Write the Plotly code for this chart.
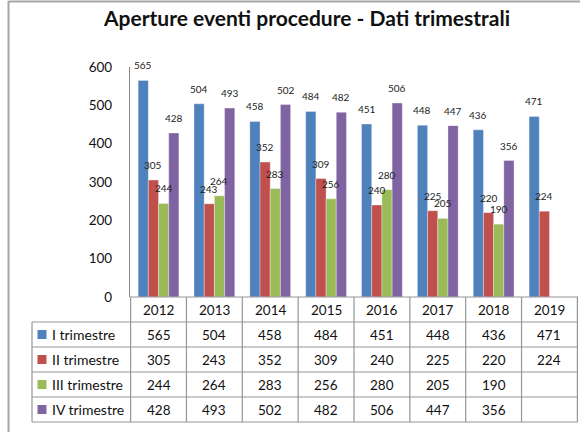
import plotly.graph_objects as go

# ---- data ----
years = ["2012", "2013", "2014", "2015", "2016", "2017", "2018", "2019"]
series_names = ["I trimestre", "II trimestre", "III trimestre", "IV trimestre"]
q1 = [565, 504, 458, 484, 451, 448, 436, 471]
q2 = [305, 243, 352, 309, 240, 225, 220, 224]
q3 = [244, 264, 283, 256, 280, 205, 190, None]
q4 = [428, 493, 502, 482, 506, 447, 356, None]
y_ticks = [0, 100, 200, 300, 400, 500, 600]
colors = ["#4F81BD", "#C0504D", "#9BBB59", "#8064A2"]
series = [q1, q2, q3, q4]

W, H = 580, 432
L, R, T, B = 130, 2, 67, 135
PW, PH = W - L - R, H - T - B
BARGAP = 0.27
FONT = "Lato, 'Open Sans', sans-serif"
GRID = "#969696"


def px(xp):
    return (xp - L) / PW


def py(yp):
    return (H - B - yp) / PH


fig = go.Figure()
for name, vals, col in zip(series_names, series, colors):
    fig.add_trace(go.Bar(
        x=years, y=vals, name=name,
        marker=dict(color=col, line=dict(color="rgba(255,255,255,0.55)", width=0.6)),
        showlegend=False, hoverinfo="x+y+name",
    ))

annotations = []
shapes = []

# data labels above bars
nser = len(series)
bw = (1 - BARGAP) / nser
for j, vals in enumerate(series):
    off = (j - (nser - 1) / 2) * bw
    for i, v in enumerate(vals):
        if v is None:
            continue
        annotations.append(dict(
            x=i + off, y=v, xref="x", yref="y", text=str(v), showarrow=False,
            xanchor="center", yanchor="bottom", yshift=7,
            font=dict(size=10, color="#222", family=FONT),
        ))

# data table
row_edges = [297, 322, 347, 372, 397, 422]
tbl_left = 32
shapes.append(dict(type="line", xref="paper", yref="paper", x0=0, x1=1, y0=0, y1=0,
                   line=dict(color=GRID, width=1.2)))
for ye in row_edges[1:]:
    shapes.append(dict(type="line", xref="paper", yref="paper", x0=px(tbl_left), x1=1,
                       y0=py(ye), y1=py(ye), line=dict(color=GRID, width=1.2)))
for k in range(len(years) + 1):
    shapes.append(dict(type="line", xref="x", yref="paper", x0=k - 0.5, x1=k - 0.5,
                       y0=0, y1=py(row_edges[-1]), line=dict(color=GRID, width=1.2)))
shapes.append(dict(type="line", xref="paper", yref="paper", x0=px(tbl_left), x1=px(tbl_left),
                   y0=py(row_edges[1]), y1=py(row_edges[-1]), line=dict(color=GRID, width=1.2)))

hy = py((row_edges[0] + row_edges[1]) / 2)
for i, yr in enumerate(years):
    annotations.append(dict(x=i, y=hy, xref="x", yref="paper", text=yr, showarrow=False,
                            xanchor="center", yanchor="middle",
                            font=dict(size=13.5, color="#111", family=FONT)))
for r, (name, vals, col) in enumerate(zip(series_names, series, colors)):
    cy = py((row_edges[r + 1] + row_edges[r + 2]) / 2)
    shapes.append(dict(type="rect", xref="paper", yref="paper",
                       x0=px(37.5), x1=px(46.5), y0=cy - 4.5 / PH, y1=cy + 4.5 / PH,
                       fillcolor=col, line=dict(width=0)))
    annotations.append(dict(x=px(49.5), y=cy, xref="paper", yref="paper", text=name,
                            showarrow=False, xanchor="left", yanchor="middle",
                            font=dict(size=14, color="#111", family=FONT)))
    for i, v in enumerate(vals):
        if v is None:
            continue
        annotations.append(dict(x=i, y=cy, xref="x", yref="paper", text=str(v),
                                showarrow=False, xanchor="center", yanchor="middle",
                                font=dict(size=13.5, color="#111", family=FONT)))

# chart border (left & top)
shapes.append(dict(type="line", xref="paper", yref="paper", x0=px(8.5), x1=px(8.5),
                   y0=py(1), y1=py(H + 2), line=dict(color="#A6A6A6", width=2)))
shapes.append(dict(type="line", xref="paper", yref="paper", x0=px(8.5), x1=px(W + 2),
                   y0=py(1.5), y1=py(1.5), line=dict(color="#A6A6A6", width=2)))

fig.update_layout(
    width=W, height=H,
    margin=dict(l=L, r=R, t=T, b=B),
    paper_bgcolor="white", plot_bgcolor="white",
    barmode="group", bargap=BARGAP, bargroupgap=0,
    title=dict(text="<b>Aperture eventi procedure - Dati trimestrali</b>",
               x=307 / W, xanchor="center", y=1 - 19 / H, yanchor="middle",
               font=dict(size=21, color="#111", family=FONT)),
    xaxis=dict(type="category", showticklabels=False, showline=False, showgrid=False,
               zeroline=False, ticks=""),
    yaxis=dict(range=[0, 600], tickvals=y_ticks, showgrid=False, zeroline=False,
               showline=True, linecolor="#868686", linewidth=1.2, ticks="",
               ticklabelstandoff=14, tickfont=dict(size=13.5, color="#111", family=FONT)),
    annotations=annotations, shapes=shapes,
)

fig.write_html("out.html", config={"displayModeBar": False},
               post_script="document.body.style.margin='0';document.body.style.overflow='hidden';")
